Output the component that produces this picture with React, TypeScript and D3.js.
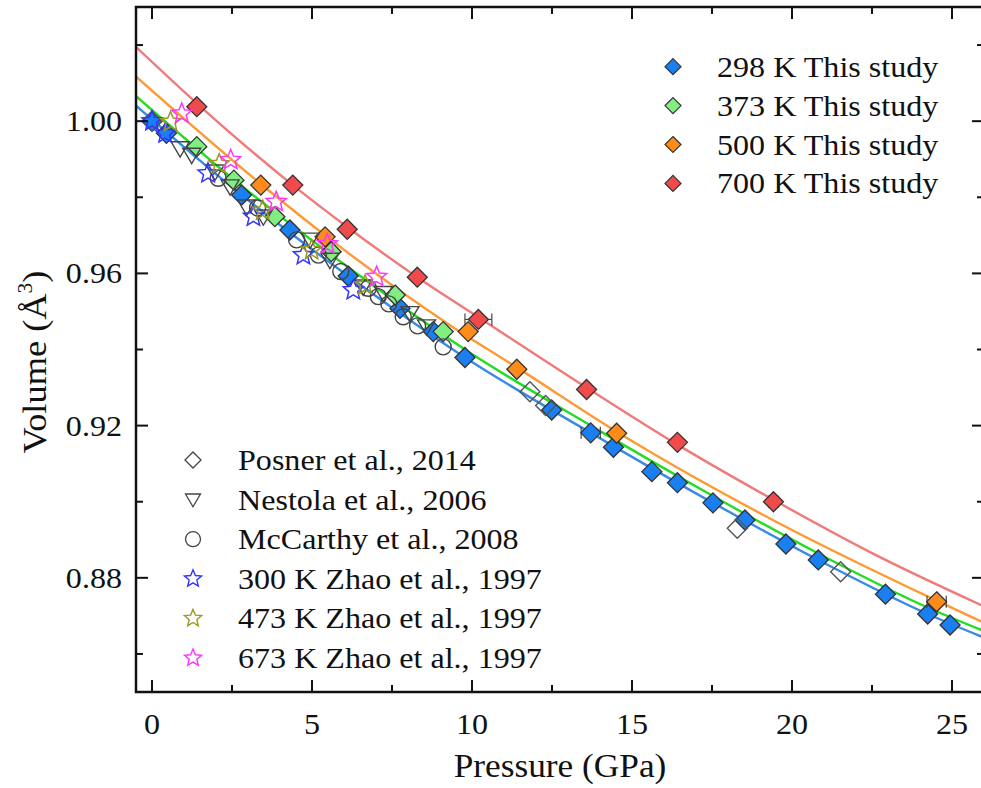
import React from "react";
import * as d3 from "d3";

// ---------- data ----------
// This study (P in GPa, V/V0)
const p298 = [0, 0.45, 2.8, 4.31, 6.13, 7.75, 8.79, 9.78, 12.49, 13.71, 14.42, 15.62, 16.42, 17.53, 18.53, 19.81, 20.82, 22.92, 24.24, 24.94];
const v298 = [1.0, 0.9968, 0.9806, 0.9714, 0.9593, 0.9508, 0.9447, 0.9379, 0.9241, 0.9181, 0.9143, 0.9079, 0.905, 0.8997, 0.8952, 0.8889, 0.8847, 0.8757, 0.8705, 0.8676];
const e298 = [0, 0, 0, 0, 0, 0, 0, 0, 0.15, 0.3, 0, 0, 0, 0, 0, 0, 0, 0, 0, 0];

const p373 = [1.4, 2.56, 3.84, 5.6, 7.6, 9.1];
const v373 = [0.9933, 0.9845, 0.9749, 0.9657, 0.9543, 0.9447];
const e373 = [0, 0, 0, 0, 0, 0];

const p500 = [3.4, 5.41, 9.88, 11.4, 14.52, 24.52];
const v500 = [0.9832, 0.9696, 0.9447, 0.9348, 0.918, 0.8737];
const e500 = [0, 0, 0, 0, 0, 0.3];

const p700 = [1.4, 4.4, 6.1, 8.29, 10.2, 13.58, 16.42, 19.42];
const v700 = [1.0038, 0.9832, 0.9716, 0.959, 0.9479, 0.9295, 0.9156, 0.9];
const e700 = [0, 0, 0, 0, 0.42, 0, 0, 0.15];

// Fitted EOS curves
const fitP298 = [-0.5, 2.8, 6.13, 9.78, 13.71, 17.53, 20.82, 24.24, 26];
const fitV298 = [1.0041, 0.9806, 0.9593, 0.9379, 0.9181, 0.8997, 0.8847, 0.8705, 0.8643];
const fitP373 = [-0.5, 2.8, 6.13, 9.78, 13.71, 17.53, 20.82, 24.24, 26];
const fitV373 = [1.0066, 0.983, 0.9616, 0.94, 0.92, 0.9015, 0.8864, 0.8722, 0.866];
const fitP500 = [-0.5, 3.4, 5.41, 9.31, 11.4, 14.52, 19.4, 24.52, 26];
const fitV500 = [1.0117, 0.9835, 0.97, 0.9464, 0.9353, 0.9184, 0.8952, 0.874, 0.8682];
const fitP700 = [-0.5, 1.4, 4.4, 6.1, 8.29, 10.2, 13.58, 16.42, 19.42, 22.5, 26];
const fitV700 = [1.0195, 1.0047, 0.9832, 0.9722, 0.959, 0.9485, 0.93, 0.915, 0.9005, 0.8865, 0.8725];

// Literature
const pPosner = [0, 11.81, 12.3, 18.29, 21.52];
const vPosner = [1.0, 0.9289, 0.9253, 0.893, 0.8816];
const pNestola = [0.88, 1.24, 1.97, 2.44, 2.96, 3.48, 4.94, 5.56, 6.6, 7.23, 8.06, 8.58];
const vNestola = [0.9928, 0.9911, 0.9867, 0.9828, 0.9775, 0.9749, 0.9688, 0.9635, 0.9565, 0.9548, 0.9495, 0.946];
const pMcCarthy = [2.07, 3.3, 4.52, 5.2, 5.9, 6.76, 7.07, 7.4, 7.85, 8.3, 9.1];
const vMcCarthy = [0.985, 0.9772, 0.9688, 0.9648, 0.9605, 0.9561, 0.9539, 0.952, 0.9486, 0.9462, 0.9407];
const pZhao300 = [0, 0.41, 1.75, 3.17, 4.73, 6.29];
const vZhao300 = [1.0, 0.9968, 0.9863, 0.9749, 0.9648, 0.9556];
const pZhao473 = [0.58, 2.1, 3.46, 4.99, 6.66];
const vZhao473 = [0.9998, 0.9887, 0.9765, 0.9661, 0.9569];
const pZhao673 = [0.93, 2.46, 3.88, 5.48, 7.02];
const vZhao673 = [1.002, 0.9898, 0.9788, 0.9677, 0.9591];

const xMajor = [0, 5, 10, 15, 20, 25];
const xMinor = [2.5, 7.5, 12.5, 17.5, 22.5];
const yMajor = [0.88, 0.92, 0.96, 1.0];
const yMinor = [0.86, 0.9, 0.94, 0.98, 1.02];

const studyLabels = ["298 K This study", "373 K This study", "500 K This study", "700 K This study"];
const litLabels = [
  "Posner et al., 2014",
  "Nestola et al., 2006",
  "McCarthy et al., 2008",
  "300 K Zhao et al., 1997",
  "473 K Zhao et al., 1997",
  "673 K Zhao et al., 1997",
];

// ---------- styles ----------
const W = 981;
const H = 788;
const L = 136, R = 984, T = 7, B = 692;
const FONT = "Liberation Serif, Times New Roman, serif";
const SX = 1.07;

const fillC = ["#1a7ff0", "#80ee80", "#ff8c1a", "#f04a4a"];
const lineC = ["#3a8ae6", "#22dd22", "#ff9a33", "#f07a7a"];
const starC = ["#3333ff", "#9a9a22", "#ff33ff"];

const diamond = (h: number) => `M0,${-h}L${h},0L0,${h}L${-h},0Z`;
const triDown = (s: number) => `M${-s},${-s * 0.75}L${s},${-s * 0.75}L0,${s * 0.95}Z`;
const star = (R0: number) => {
  const r = R0 * 0.45;
  let d = "";
  for (let i = 0; i < 10; i++) {
    const a = -Math.PI / 2 + (i * Math.PI) / 5;
    const rr = i % 2 === 0 ? R0 : r;
    d += (i === 0 ? "M" : "L") + (rr * Math.cos(a)).toFixed(2) + "," + (rr * Math.sin(a)).toFixed(2);
  }
  return d + "Z";
};

export default function App() {
  const x = d3.scaleLinear().domain([-0.5, 26]).range([L, R]);
  const y = d3.scaleLinear().domain([0.85, 1.03]).range([B, T]);
  const line = d3
    .line<[number, number]>()
    .x((d) => x(d[0]))
    .y((d) => y(d[1]))
    .curve(d3.curveMonotoneX);

  const fits = [
    [fitP298, fitV298],
    [fitP373, fitV373],
    [fitP500, fitV500],
    [fitP700, fitV700],
  ];
  const study = [
    [p298, v298, e298],
    [p373, v373, e373],
    [p500, v500, e500],
    [p700, v700, e700],
  ];

  const txt = (s: string, tx: number, ty: number, size: number, anchor: string = "start", key?: any) => (
    <text
      key={key}
      transform={`translate(${tx},${ty}) scale(${SX},1)`}
      fontFamily={FONT}
      fontSize={size}
      textAnchor={anchor}
      fill="#111"
    >
      {s}
    </text>
  );

  return (
    <svg width={W} height={H} style={{ position: "absolute", left: 0, top: 0, background: "#fff" }}>
      <defs>
        <clipPath id="plotclip">
          <rect x={L} y={T} width={R - L} height={B - T} />
        </clipPath>
      </defs>
      <rect x={0} y={0} width={W} height={H} fill="#fff" />

      {/* fitted curves */}
      <g clipPath="url(#plotclip)">
        {fits.map(([ps, vs], i) => (
          <path
            key={i}
            d={line(ps.map((p, j) => [p, vs[j]]) as [number, number][]) || ""}
            fill="none"
            stroke={lineC[i]}
            strokeWidth={2.4}
          />
        ))}
      </g>

      {/* this study */}
      <g clipPath="url(#plotclip)">
        {study.map(([ps, vs, es], i) =>
          ps.map((p, j) => (
            <g key={`s${i}-${j}`}>
              {es[j] > 0 && (
                <g stroke="#444" strokeWidth={1.2}>
                  <line x1={x(p - es[j])} x2={x(p + es[j])} y1={y(vs[j])} y2={y(vs[j])} />
                  <line x1={x(p - es[j])} x2={x(p - es[j])} y1={y(vs[j]) - 6} y2={y(vs[j]) + 6} />
                  <line x1={x(p + es[j])} x2={x(p + es[j])} y1={y(vs[j]) - 6} y2={y(vs[j]) + 6} />
                </g>
              )}
              <path
                d={diamond(10)}
                transform={`translate(${x(p)},${y(vs[j])})`}
                fill={fillC[i]}
                stroke="#333"
                strokeWidth={1.3}
              />
            </g>
          ))
        )}

        {/* literature */}
        {pPosner.map((p, j) => (
          <path key={`po${j}`} d={diamond(10)} transform={`translate(${x(p)},${y(vPosner[j])})`} fill="none" stroke="#555" strokeWidth={1.4} />
        ))}
        {pNestola.map((p, j) => (
          <path key={`ne${j}`} d={triDown(9)} transform={`translate(${x(p)},${y(vNestola[j])})`} fill="none" stroke="#444" strokeWidth={1.4} />
        ))}
        {pMcCarthy.map((p, j) => (
          <circle key={`mc${j}`} cx={x(p)} cy={y(vMcCarthy[j])} r={8} fill="none" stroke="#444" strokeWidth={1.4} />
        ))}
        {[
          [pZhao300, vZhao300],
          [pZhao473, vZhao473],
          [pZhao673, vZhao673],
        ].map(([ps, vs], i) =>
          ps.map((p, j) => (
            <path key={`z${i}-${j}`} d={star(10.5)} transform={`translate(${x(p)},${y(vs[j])})`} fill="none" stroke={starC[i]} strokeWidth={1.5} />
          ))
        )}
      </g>

      {/* frame */}
      <rect x={L} y={T} width={R - L} height={B - T} fill="none" stroke="#111" strokeWidth={2.5} />

      {/* ticks */}
      <g stroke="#111" strokeWidth={2}>
        {xMajor.map((v) => (
          <g key={`xM${v}`}>
            <line x1={x(v)} x2={x(v)} y1={B} y2={B - 12} />
            <line x1={x(v)} x2={x(v)} y1={T} y2={T + 12} />
          </g>
        ))}
        {xMinor.map((v) => (
          <g key={`xm${v}`}>
            <line x1={x(v)} x2={x(v)} y1={B} y2={B - 7} />
            <line x1={x(v)} x2={x(v)} y1={T} y2={T + 7} />
          </g>
        ))}
        {yMajor.map((v) => (
          <g key={`yM${v}`}>
            <line x1={L} x2={L + 12} y1={y(v)} y2={y(v)} />
            <line x1={R} x2={R - 12} y1={y(v)} y2={y(v)} />
          </g>
        ))}
        {yMinor.map((v) => (
          <g key={`ym${v}`}>
            <line x1={L} x2={L + 7} y1={y(v)} y2={y(v)} />
            <line x1={R} x2={R - 7} y1={y(v)} y2={y(v)} />
          </g>
        ))}
      </g>

      {/* tick labels */}
      {xMajor.map((v) => txt(d3.format("d")(v), x(v), 734, 30, "middle", `xl${v}`))}
      {yMajor.map((v) => txt(d3.format(".2f")(v), 122, y(v) + 10, 30, "end", `yl${v}`))}

      {/* axis titles */}
      {txt("Pressure (GPa)", 560, 777, 33, "middle", "xt")}
      <text
        transform={`translate(46,362) rotate(-90) scale(${SX},1)`}
        fontFamily={FONT}
        fontSize={34}
        textAnchor="middle"
        fill="#111"
      >
        Volume (Å
        <tspan dy={-14} fontSize={20}>3</tspan>
        <tspan dy={14}>)</tspan>
      </text>

      {/* top-right legend */}
      {studyLabels.map((s, i) => {
        const cy = 66.7 + i * 38.9;
        return (
          <g key={`lg${i}`}>
            <path d={diamond(8)} transform={`translate(673,${cy})`} fill={fillC[i]} stroke="#333" strokeWidth={1.2} />
            {txt(s, 717, cy + 10, 30)}
          </g>
        );
      })}

      {/* bottom-left legend */}
      {litLabels.map((s, i) => {
        const cy = 460 + i * 39.6;
        let mk;
        if (i === 0) mk = <path d={diamond(8)} transform={`translate(193,${cy})`} fill="none" stroke="#444" strokeWidth={1.3} />;
        else if (i === 1) mk = <path d={triDown(7.5)} transform={`translate(193,${cy})`} fill="none" stroke="#444" strokeWidth={1.3} />;
        else if (i === 2) mk = <circle cx={193} cy={cy} r={7.5} fill="none" stroke="#444" strokeWidth={1.3} />;
        else mk = <path d={star(9)} transform={`translate(193,${cy})`} fill="none" stroke={starC[i - 3]} strokeWidth={1.4} />;
        return (
          <g key={`ll${i}`}>
            {mk}
            {txt(s, 238, cy + 10, 30)}
          </g>
        );
      })}
    </svg>
  );
}
